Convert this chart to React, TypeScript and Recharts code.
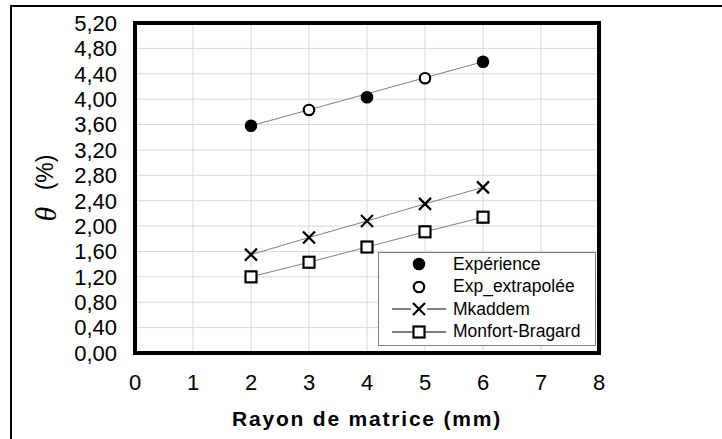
import React from "react";
import {
  ComposedChart,
  Line,
  XAxis,
  YAxis,
  CartesianGrid,
  Legend,
  ReferenceArea,
} from "recharts";

// x values (mm)
const radius = [2, 3, 4, 5, 6];
const experienceX = [2, 4, 6];
const experienceY = [3.58, 4.03, 4.59];
const extrapX = [3, 5];
const extrapY = [3.83, 4.33];
const trendX = [2, 6];
const trendY = [3.58, 4.59];
const mkaddem = [1.55, 1.82, 2.08, 2.35, 2.61];
const monfort = [1.2, 1.43, 1.67, 1.91, 2.14];

const xTicks = [0, 1, 2, 3, 4, 5, 6, 7, 8];
const yTicks = [0, 0.4, 0.8, 1.2, 1.6, 2, 2.4, 2.8, 3.2, 3.6, 4, 4.4, 4.8, 5.2];
const seriesNames = ["Expérience", "Exp_extrapolée", "Mkaddem", "Monfort-Bragard"];

const FONT = "Arial, 'Liberation Sans', sans-serif";

const toPts = (xs: number[], ys: number[]) => xs.map((x, i) => ({ x, y: ys[i] }));
const expData = toPts(experienceX, experienceY);
const extrapData = toPts(extrapX, extrapY);
const trendData = toPts(trendX, trendY);
const mkData = toPts(radius, mkaddem);
const mbData = toPts(radius, monfort);

const fmt = (v: number) => v.toFixed(2).replace(".", ",");

const filledDot = (p: any) => (
  <circle key={`f${p.index}`} cx={p.cx} cy={p.cy} r={6.3} fill="#000" />
);
const openDot = (p: any) => (
  <circle key={`o${p.index}`} cx={p.cx} cy={p.cy} r={5.2} fill="#fff" stroke="#000" strokeWidth={2.2} />
);
const crossDot = (p: any) => (
  <path
    key={`c${p.index}`}
    d={`M${p.cx - 6},${p.cy - 6}L${p.cx + 6},${p.cy + 6}M${p.cx - 6},${p.cy + 6}L${p.cx + 6},${p.cy - 6}`}
    stroke="#000"
    strokeWidth={2.2}
    fill="none"
  />
);
const squareDot = (p: any) => (
  <rect key={`s${p.index}`} x={p.cx - 5.5} y={p.cy - 5.5} width={11} height={11} fill="#fff" stroke="#000" strokeWidth={2.2} />
);

function LegendIcon({ i }: { i: number }) {
  const cx = 40;
  const cy = 11;
  return (
    <svg width={70} height={22} style={{ display: "block" }}>
      {i >= 2 && <line x1={13} y1={cy} x2={67} y2={cy} stroke="#000" strokeWidth={1} />}
      {i === 0 && filledDot({ cx, cy, index: 0 })}
      {i === 1 && openDot({ cx, cy, index: 0 })}
      {i === 2 && (
        <>
          <rect x={cx - 8} y={cy - 8} width={16} height={16} fill="#fff" />
          {crossDot({ cx, cy, index: 0 })}
        </>
      )}
      {i === 3 && squareDot({ cx, cy, index: 0 })}
    </svg>
  );
}

const renderLegend = () => (
  <div
    style={{
      border: "1px solid #808080",
      background: "#fff",
      width: 218,
      height: 94,
      boxSizing: "border-box",
      fontFamily: FONT,
      fontSize: 17.5,
      color: "#000",
    }}
  >
    {seriesNames.map((n, i) => (
      <div key={n} style={{ display: "flex", alignItems: "center", height: 22.5 }}>
        <LegendIcon i={i} />
        <span style={{ marginLeft: 4, whiteSpace: "nowrap" }}>{n}</span>
      </div>
    ))}
  </div>
);

export default function App() {
  return (
    <div style={{ position: "absolute", left: 0, top: 0, width: 722, height: 439, background: "#fff", overflow: "hidden" }}>
      <div
        style={{
          position: "absolute",
          left: 10,
          top: 5,
          width: 740,
          height: 460,
          border: "2px solid #000",
        }}
      />
      <div style={{ position: "absolute", left: 0, top: 0 }}>
        <ComposedChart
          width={722}
          height={439}
          margin={{ top: 23, right: 123, left: 10, bottom: 0 }}
        >
          <CartesianGrid stroke="#d9d9d9" strokeWidth={1} />
          <XAxis
            type="number"
            dataKey="x"
            domain={[0, 8]}
            ticks={xTicks}
            interval={0}
            height={86}
            tickLine={false}
            axisLine={false}
            tickSize={0}
            tickMargin={21}
            tick={{ fill: "#000", fontSize: 22, fontFamily: FONT }}
            allowDuplicatedCategory={false}
            label={{
              content: ({ viewBox }: any) => (
                <text
                  x={viewBox.x + viewBox.width / 2}
                  y={viewBox.y + 65}
                  textAnchor="middle"
                  dominantBaseline="central"
                  fontFamily={FONT}
                  fontSize={21}
                  fontWeight="bold"
                  letterSpacing={1.8}
                  fill="#000"
                >
                  Rayon de matrice (mm)
                </text>
              ),
            }}
          />
          <YAxis
            type="number"
            domain={[0, 5.2]}
            ticks={yTicks}
            interval={0}
            width={125}
            tickLine={false}
            axisLine={false}
            tickSize={0}
            tickMargin={18}
            tickFormatter={fmt}
            tick={{ fill: "#000", fontSize: 22, fontFamily: FONT }}
            label={{
              content: ({ viewBox }: any) => {
                const x = viewBox.x + 35;
                const y = viewBox.y + viewBox.height / 2;
                return (
                  <text
                    x={x}
                    y={y}
                    transform={`rotate(-90, ${x}, ${y})`}
                    textAnchor="middle"
                    dominantBaseline="central"
                    fontFamily={FONT}
                    fontSize={23}
                    fill="#000"
                  >
                    <tspan fontFamily="'Liberation Serif', 'Times New Roman', serif" fontStyle="italic" fontSize={30}>
                      θ
                    </tspan>
                    <tspan dx={10}> (%)</tspan>
                  </text>
                );
              },
            }}
          />
          <Line data={trendData} dataKey="y" stroke="#808080" strokeWidth={1} dot={false} isAnimationActive={false} legendType="none" />
          <Line data={mkData} dataKey="y" name="Mkaddem" stroke="#808080" strokeWidth={1} dot={crossDot} isAnimationActive={false} />
          <Line data={mbData} dataKey="y" name="Monfort-Bragard" stroke="#808080" strokeWidth={1} dot={squareDot} isAnimationActive={false} />
          <Line data={expData} dataKey="y" name="Expérience" stroke="none" dot={filledDot} isAnimationActive={false} />
          <Line data={extrapData} dataKey="y" name="Exp_extrapolée" stroke="none" dot={openDot} isAnimationActive={false} />
          <ReferenceArea x1={0} x2={8} y1={0} y2={5.2} fill="none" stroke="#000" strokeWidth={4} ifOverflow="visible" />
          <Legend
            layout="horizontal"
            align="center"
            verticalAlign="middle"
            content={renderLegend}
            wrapperStyle={{ left: 378, top: 252, width: 218, height: 94 }}
          />
        </ComposedChart>
      </div>
    </div>
  );
}
